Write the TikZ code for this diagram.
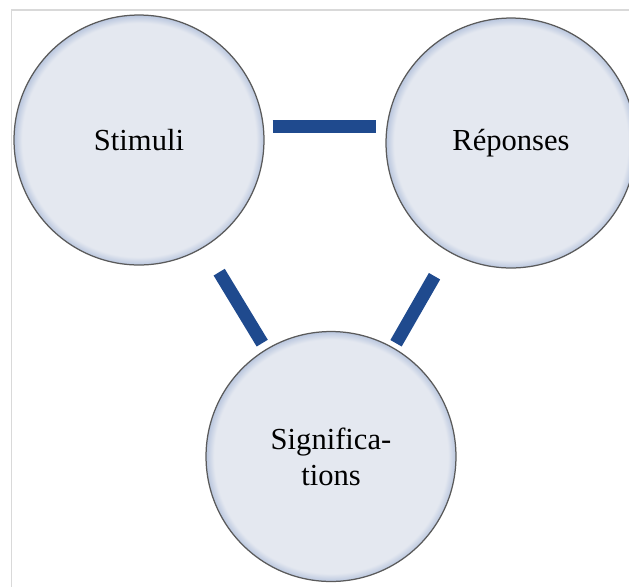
\documentclass[tikz,border=0pt]{standalone}
\usepackage{fontspec}
\setmainfont{Liberation Serif}
\usetikzlibrary{calc}
\definecolor{BarBlue}{HTML}{1F4A8E}
\definecolor{DiskFill}{HTML}{E4E8F0}
\definecolor{DiskRim}{HTML}{B9C6DE}
\definecolor{DiskEdge}{HTML}{5A5A5A}
\definecolor{FrameGray}{HTML}{D9D9D9}
\pgfdeclareradialshading{diskshade}{\pgfpoint{0bp}{0bp}}{%
  color(0bp)=(DiskFill); color(23.4bp)=(DiskFill);
  color(25bp)=(DiskRim); color(50bp)=(DiskRim)}

\begin{document}
\begin{tikzpicture}[x=0.02cm, y=-0.02cm,
  every node/.style={font=\fontsize{17.4}{20.5}\selectfont},
  disk/.style={circle, minimum size=5cm, inner sep=0pt, shading=diskshade,
    draw=DiskEdge, line width=0.025cm},
  bar/.style={BarBlue, line width=0.26cm}]
  \clip (0,0) rectangle (629,586);
  \draw [FrameGray, line width=0.03cm] (11.5,600) -- (11.5,10) -- (640,10);

  \node [disk] (stim) at (139,140) {Stimuli};
  \node [disk] (rep) at (511,143) {Réponses};
  \node [disk, align=center] (sig) at (331,456.5) {Significa-\\tions};

  \draw [bar] ([shift={(8,-13.5)}]stim.east) -- ([shift={(-9,-16.5)}]rep.west);
  \draw [bar, shorten <=0.58cm, shorten >=0.14cm] (stim) -- (sig);
  \draw [bar, shorten <=0.56cm, shorten >=0.1cm] (rep) -- (sig);
\end{tikzpicture}
\end{document}
